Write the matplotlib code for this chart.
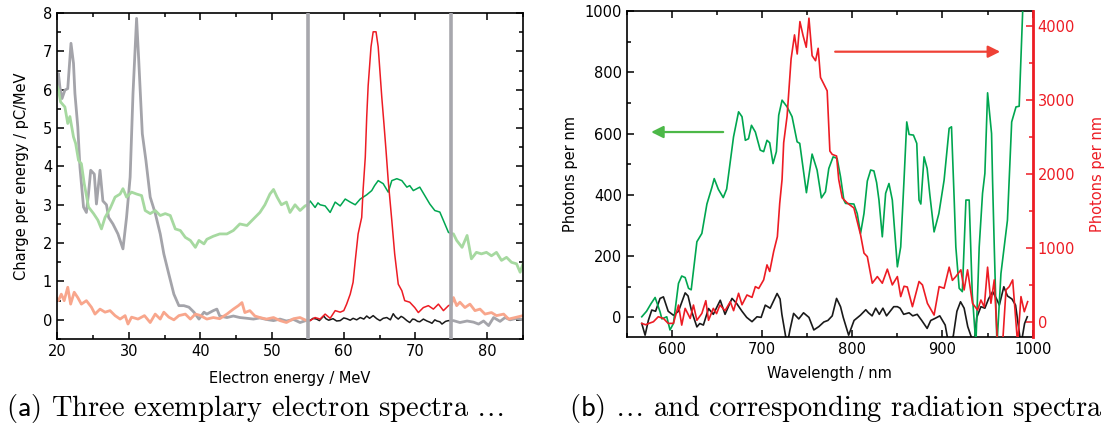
import numpy as np
import matplotlib
matplotlib.use("Agg")
import matplotlib.pyplot as plt
from matplotlib.ticker import MultipleLocator

plt.rcParams['font.family'] = ['DejaVu Sans']
plt.rcParams['mathtext.fontset'] = 'cm'

# --- (a) electron spectra: energy in MeV, charge in pC/MeV ---
e_a = [20.0, 20.2, 20.4, 20.7, 21.1, 21.5, 21.95, 22.3, 22.5, 22.9, 23.2, 23.7, 24.1, 24.4, 24.7,
       25.2, 25.5, 26.0, 26.4, 26.9, 27.2, 27.8, 28.5, 29.2, 29.7, 30.2, 30.6, 31.1, 31.4, 31.9,
       32.4, 33.0, 33.7, 34.4, 34.9, 35.6, 36.3, 37.0, 37.7, 38.4, 39.1, 39.8, 40.5, 40.9, 41.8,
       42.3, 42.7, 43.7, 44.6, 45.5, 46.5, 47.4, 48.3, 49.2, 50.2, 51.1, 52.0, 53.0, 53.9, 54.7,
       55.0, 55.3, 55.7, 56.2, 56.6, 57.2, 57.5, 57.9, 58.5, 59.0, 59.5, 60.0, 60.4, 60.9, 61.3,
       61.8, 62.3, 62.8, 63.2, 63.6, 64.1, 64.6, 65.05, 65.5, 66.0, 66.5, 66.9, 67.2, 67.6, 68.0,
       68.3, 68.8, 69.2, 69.6, 69.9, 70.3, 70.6, 71.1, 71.6, 72.0, 72.3, 72.7, 73.0, 73.4, 73.7,
       74.2, 74.6, 75.0, 75.3, 76.2, 77.2, 78.1, 78.8, 79.5, 80.2, 80.9, 81.8, 82.5, 83.2, 84.1, 85.0]
q_a = [6.1, 6.42, 6.07, 5.77, 5.99, 6.03, 7.21, 6.69, 5.9, 5.03, 3.98, 2.94, 2.8, 3.3, 3.9,
       3.8, 3.02, 3.9, 3.1, 3.0, 2.67, 2.5, 2.24, 1.85, 2.67, 3.72, 5.9, 7.86, 6.77, 4.85,
       4.16, 3.2, 2.78, 2.24, 1.72, 1.19, 0.67, 0.37, 0.37, 0.33, 0.2, 0.02, 0.2, 0.15, 0.24,
       0.28, 0.1, 0.06, 0.1, 0.06, 0.04, 0.02, 0.05, 0.01, -0.02, 0.02, -0.03, 0.01, -0.07, -0.02,
       -0.01, -0.02, 0.04, 0.02, -0.02, 0.1, 0.03, -0.01, 0.03, -0.03, -0.02, 0.05, 0.03, -0.01, 0.04,
       0.0, 0.06, 0.02, 0.1, 0.04, 0.11, 0.03, -0.02, 0.04, 0.06, 0.0, 0.16, 0.08, 0.02, 0.09,
       0.06, -0.02, -0.07, 0.02, 0.01, -0.04, -0.05, 0.02, -0.03, -0.06, -0.09, 0.0, -0.03, -0.05, -0.11,
       -0.04, -0.02, -0.03, -0.02, -0.07, -0.03, -0.06, -0.11, -0.03, -0.15, 0.06, -0.04, 0.06, 0.0, 0.04, 0.0]

e_b = [20.0, 20.2, 20.5, 21.1, 21.5, 21.8, 22.3, 22.6, 23.0, 23.4, 23.8, 24.4, 25.1, 25.7, 26.2,
       26.7, 27.4, 28.1, 28.8, 29.2, 29.7, 30.4, 31.1, 31.8, 32.3, 33.0, 33.7, 34.4, 35.1, 35.8,
       36.5, 37.2, 37.9, 38.6, 39.3, 39.8, 40.5, 40.9, 41.8, 42.7, 43.7, 44.6, 45.5, 46.5, 47.4,
       48.3, 49.0, 49.7, 50.2, 50.7, 51.3, 52.0, 52.5, 53.2, 53.9, 54.6, 55.0, 55.3, 56.0, 56.4,
       56.7, 57.4, 58.1, 58.8, 59.5, 60.2, 60.9, 61.6, 62.3, 63.2, 63.9, 64.3, 64.8, 65.5, 66.2,
       66.7, 67.4, 68.1, 68.8, 69.2, 69.7, 70.6, 71.3, 72.0, 72.7, 73.4, 73.9, 74.6, 75.0, 75.3,
       75.75, 76.5, 77.2, 77.5, 77.8, 78.5, 79.2, 79.9, 80.6, 81.3, 82.0, 82.7, 83.4, 84.1, 84.6, 85.0]
q_b = [6.1, 6.0, 5.68, 5.55, 5.12, 5.3, 4.77, 4.6, 4.16, 4.07, 3.55, 2.94, 2.77, 2.6, 2.37,
       2.67, 2.9, 3.2, 3.28, 3.42, 3.2, 3.33, 3.28, 3.24, 2.85, 2.77, 2.85, 2.72, 2.77, 2.72,
       2.37, 2.33, 2.15, 2.07, 1.89, 2.07, 1.98, 2.1, 2.18, 2.24, 2.24, 2.33, 2.5, 2.46, 2.63,
       2.8, 3.0, 3.28, 3.4, 3.2, 3.0, 3.07, 2.8, 3.0, 2.85, 2.97, 3.0, 3.1, 2.93, 3.05,
       3.0, 2.97, 2.8, 3.07, 2.97, 3.15, 3.07, 3.0, 3.15, 3.26, 3.37, 3.5, 3.63, 3.55, 3.33,
       3.63, 3.68, 3.63, 3.46, 3.5, 3.37, 3.46, 3.24, 3.02, 2.85, 2.81, 2.59, 2.28, 2.25, 2.24,
       2.07, 1.89, 2.2, 1.9, 1.59, 1.76, 1.72, 1.76, 1.67, 1.76, 1.55, 1.63, 1.5, 1.46, 1.24, 1.46]

e_c = [20.0, 20.2, 20.6, 21.0, 21.5, 21.9, 22.4, 22.9, 23.4, 24.1, 24.8, 25.3, 26.0, 26.7, 27.4,
       28.1, 28.8, 29.5, 29.9, 30.4, 31.3, 32.2, 33.0, 33.7, 34.4, 34.9, 35.6, 36.3, 37.0, 37.9,
       38.6, 39.3, 39.9, 40.9, 41.8, 42.7, 43.7, 44.6, 45.3, 45.8, 46.2, 46.9, 47.6, 48.3, 49.2,
       50.2, 51.1, 52.0, 53.0, 53.9, 54.7, 55.0, 55.3, 56.0, 56.7, 57.4, 58.1, 58.8, 59.5, 60.0,
       60.4, 60.9, 61.3, 61.6, 62.0, 62.3, 62.5, 62.7, 63.0, 63.2, 63.4, 63.8, 64.1, 64.5, 64.8,
       65.3, 65.6, 65.9, 66.2, 66.7, 67.1, 67.6, 68.1, 68.5, 69.2, 69.9, 70.4, 71.1, 71.8, 72.5,
       73.2, 73.9, 74.6, 75.0, 75.3, 75.75, 76.2, 76.9, 77.6, 78.3, 79.0, 79.7, 80.6, 81.3, 82.3,
       83.0, 83.9, 85.0]
q_c = [0.55, 0.5, 0.67, 0.5, 0.85, 0.41, 0.72, 0.58, 0.41, 0.5, 0.33, 0.15, 0.28, 0.2, 0.24,
       0.11, 0.02, 0.11, -0.11, 0.07, 0.02, 0.11, -0.07, 0.15, 0.02, 0.2, 0.07, 0.0, 0.11, 0.15,
       0.02, 0.15, 0.12, 0.02, 0.06, 0.03, 0.15, 0.28, 0.37, 0.45, 0.19, 0.24, 0.1, 0.06, 0.02,
       0.06, -0.02, -0.07, 0.03, 0.06, -0.01, -0.01, -0.02, 0.06, 0.02, 0.15, 0.04, 0.24, 0.2, 0.24,
       0.41, 0.67, 0.98, 1.54, 2.24, 2.5, 2.67, 3.4, 4.24, 5.29, 6.1, 7.12, 7.51, 7.51, 7.12,
       5.81, 5.12, 4.4, 3.63, 2.59, 1.72, 0.93, 0.76, 0.5, 0.46, 0.32, 0.19, 0.32, 0.37, 0.28,
       0.41, 0.24, 0.37, 0.4, 0.58, 0.37, 0.46, 0.32, 0.41, 0.24, 0.28, 0.15, 0.19, 0.11, 0.15,
       0.02, 0.06, 0.11]

window = (55, 75)

# --- (b) radiation spectra: wavelength in nm, photons per nm ---
wl_green = [566.7, 572, 577, 581.5, 587, 589, 594.4, 598, 601.8, 607.4, 611, 614.8, 618.5, 621.5,
            627.8, 633.3, 638.9, 644.4, 647, 651.6, 657, 660.8, 668.4, 674, 677.8, 681.5, 685, 688.3,
            692.6, 698, 701.8, 705.5, 708.5, 712.2, 715.9, 718.5, 722.2, 727.8, 733.3, 738.9, 741.8,
            749.2, 755.5, 761, 765.8, 770.3, 774, 778.8, 783.2, 787, 790.7, 792.6, 801.8, 805.5,
            809.2, 813, 816.7, 820.4, 824, 827, 829.6, 833.3, 837, 840.7, 844.4, 850, 853.7, 857.4,
            860.4, 863, 867.8, 871.5, 874, 876, 879.6, 883, 886, 890.7, 896, 901.8, 907.4, 910, 913,
            914.8, 918.5, 922, 926, 929.6, 933, 937, 940.7, 944.4, 947, 950, 954.4, 955.5, 957.4,
            960.4, 964.8, 972, 976.7, 981.5, 985, 988.9, 991]
ph_green = [2, 20, 45, 65, 18, -5, 2, -41, -20, 111, 135, 130, 95, 90,
            247, 274, 370, 424, 453, 418, 391, 419, 589, 671, 655, 578, 583, 627,
            605, 546, 541, 578, 570, 502, 541, 660, 709, 687, 655, 573, 568,
            407, 533, 481, 390, 410, 486, 524, 519, 459, 383, 372, 370, 339,
            274, 339, 445, 481, 478, 440, 383, 263, 405, 437, 383, 165, 230, 450,
            638, 597, 595, 568, 383, 370, 524, 486, 400, 279, 339, 448, 617, 622, 383,
            230, 95, 84, 383, 383, 78, -90, 230, 405, 470, 733, 600, 448, 230,
            -90, 143, 317, 638, 687, 689, 1000, 1100]

wl_red = [566.7, 571, 575, 579.6, 585, 590.7, 596, 601.8, 607.4, 611, 614.8, 620.4, 624, 627.8,
          633.3, 637.7, 640.7, 646, 649.6, 653.3, 659, 664.8, 668.5, 674, 677.8, 683.3, 688.9,
          692.6, 696.3, 701.8, 705.5, 708.5, 712.9, 717, 719.6, 722.2, 724, 727.8, 732.2, 736, 739,
          742, 745.5, 749, 752, 755.5, 759.3, 762.2, 764.8, 768.5, 772.2, 775.2, 777.8, 782.6, 785,
          788.9, 794.4, 801.8, 805.5, 809.2, 813, 816.7, 822.2, 827.8, 833.3, 838.9, 844.4, 850,
          853.7, 857.4, 861, 866.7, 874, 877.8, 883.3, 890.7, 896.3, 901.8, 907.4, 911, 914.8,
          920.4, 924, 927.8, 933.3, 938.9, 942.6, 946.3, 950, 953.7, 957.4, 961, 966.6, 970.4, 974,
          977.8, 983.3, 987, 990.7, 994.4]
ph_red = [-22, -40, -20, 0, 68, 45, -22, -22, 226, -45, 181, 45, 226, 20,
          113, 285, 20, 181, 110, 226, 150, 271, 150, 385, 230, 362, 330,
          475, 450, 566, 769, 680, 950, 1150, 1600, 1923, 2420, 2782, 3551, 3877, 3619,
          4057, 3867, 3710, 4103, 3596, 3528, 3696, 3302, 3212, 3121, 2307, 2262, 2240, 1923,
          1674, 1606, 1538, 1357, 1176, 928, 880, 521, 611, 521, 711, 498, 611,
          340, 480, 470, 204, 544, 498, 249, 91, 475, 453, 738, 560, 611,
          702, 430, 702, 249, 158, 294, 200, 738, 250, 566, -300, -300, 430, 475,
          566, -300, 340, 136, 272]

wl_black = [566.7, 570.4, 574, 577.8, 582, 587, 590.7, 596, 601.8, 607.4, 614.8, 618, 622, 627.8,
            631, 635, 640.7, 646, 653.7, 659, 666.7, 672, 677.8, 683, 688.9, 694.4, 699, 703.6,
            709, 716.7, 720, 722, 727.8, 731, 735, 740.7, 746, 752, 757.4, 763, 768.5, 773, 777.8,
            782.6, 787, 790, 796, 802, 809, 815, 818, 822, 826, 830, 834, 838, 842, 846, 850, 853,
            857, 863, 867, 872, 877, 883, 887, 892, 897, 903, 907, 912, 916, 920, 924, 928, 935,
            938, 942.6, 947, 951, 955.6, 960, 963, 968, 972, 977, 981, 987, 991, 994]
ph_black = [-20, -58, -10, 24, 20, 62, 67, 20, 7, 20, 80, 70, 20, -31,
            -20, -25, 29, 10, 56, 10, 62, 45, 20, 0, -14, 2, 0, 40,
            30, 78, 60, 10, -90, -40, 13, -5, 15, 0, -41, -30, -15, -10, 5,
            62, 35, 0, -58, -10, 7, 25, 15, 5, 30, 10, 30, 5, 20, 35, 35, 30,
            10, 15, 5, 10, -10, -36, -10, -3, 5, -25, -90, -60, 20, 51, 30, -30, -90,
            0, 35, 30, 60, 84, 60, 40, 100, 70, 60, 40, -90, -20, 2]

GRAY, BLACK = '#a4a4aa', '#1a1a1a'
LGREEN, GREEN = '#a6d9a0', '#00a650'
SALMON, RED = '#f8a68c', '#ed1c24'


def split_window(e, q, lo, hi):
    e = np.asarray(e, float)
    q = np.asarray(q, float)
    inside = np.where((e >= lo) & (e <= hi), q, np.nan)
    outside = np.where((e <= lo) | (e >= hi), q, np.nan)
    return e, inside, outside


def style_axes(ax):
    ax.tick_params(which='both', direction='in', top=True, labelsize=10.5, width=1.1)
    ax.tick_params(which='major', length=5)
    ax.tick_params(which='minor', length=3)
    for sp in ax.spines.values():
        sp.set_linewidth(1.2)


fig = plt.figure(figsize=(11.09, 4.28), dpi=100)

# ---------- panel (a) ----------
ax = fig.add_axes([0.0514, 0.2079, 0.4202, 0.7617])
for e, q, faded, bright in [(e_a, q_a, GRAY, BLACK), (e_b, q_b, LGREEN, GREEN), (e_c, q_c, SALMON, RED)]:
    x, inside, outside = split_window(e, q, *window)
    ax.plot(x, outside, color=faded, lw=2.0, zorder=2)
    ax.plot(x, inside, color=bright, lw=1.1, zorder=3)
for xv in window:
    ax.axvline(xv, color='#a7a7ad', lw=2.6, zorder=4)

ax.set_xlim(20, 85)
ax.set_ylim(-0.5, 8)
ax.xaxis.set_major_locator(MultipleLocator(10))
ax.xaxis.set_minor_locator(MultipleLocator(5))
ax.yaxis.set_major_locator(MultipleLocator(1))
ax.yaxis.set_minor_locator(MultipleLocator(0.5))
style_axes(ax)
ax.tick_params(which='both', right=True)
ax.set_xlabel('Electron energy / MeV', fontsize=10.5, labelpad=9)
ax.set_ylabel('Charge per energy / pC/MeV', fontsize=10.5, labelpad=10)

# ---------- panel (b) ----------
bx = fig.add_axes([0.5651, 0.2119, 0.3661, 0.7624])
bx.plot(wl_green, ph_green, color=GREEN, lw=1.2, zorder=3)
bx.plot(wl_black, ph_black, color=BLACK, lw=1.2, zorder=2)
bx.set_xlim(550, 1000)
bx.set_ylim(-65, 1000)
bx.xaxis.set_major_locator(MultipleLocator(100))
bx.xaxis.set_minor_locator(MultipleLocator(50))
bx.yaxis.set_major_locator(MultipleLocator(200))
bx.yaxis.set_minor_locator(MultipleLocator(100))
style_axes(bx)
bx.spines['right'].set_visible(False)
bx.set_xlabel('Wavelength / nm', fontsize=10.5, labelpad=6)
bx.set_ylabel('Photons per nm', fontsize=10.5, labelpad=5)
bx.annotate('', xy=(574, 605), xytext=(660, 605),
            arrowprops=dict(arrowstyle='-|>', color='#4cb848', lw=1.6, mutation_scale=18))

rx = bx.twinx()
rx.plot(wl_red, ph_red, color=RED, lw=1.2, zorder=4)
rx.set_ylim(-210, 4200)
rx.yaxis.set_major_locator(MultipleLocator(1000))
rx.yaxis.set_minor_locator(MultipleLocator(500))
for name in ['left', 'top', 'bottom']:
    rx.spines[name].set_visible(False)
rx.spines['right'].set_color(RED)
rx.spines['right'].set_linewidth(2.0)
rx.tick_params(which='both', direction='in', colors=RED, labelsize=10.5, width=1.1)
rx.tick_params(which='major', length=5)
rx.tick_params(which='minor', length=3)
rx.set_ylabel('Photons per nm', fontsize=10.5, color=RED, labelpad=11)
rx.annotate('', xy=(967, 3650), xytext=(778, 3650),
            arrowprops=dict(arrowstyle='-|>', color='#ef4136', lw=1.6, mutation_scale=18))

# ---------- captions ----------
fig.text(0.2300, 0.028, r'($\mathsf{a}$) Three exemplary electron spectra $\ldots$',
         family='cmr10', fontsize=20.5, ha='center', va='baseline')
fig.text(0.7542, 0.028, r'($\mathsf{b}$) $\ldots$ and corresponding radiation spectra',
         family='cmr10', fontsize=20.5, ha='center', va='baseline')

fig.savefig('out.png', dpi=100)
